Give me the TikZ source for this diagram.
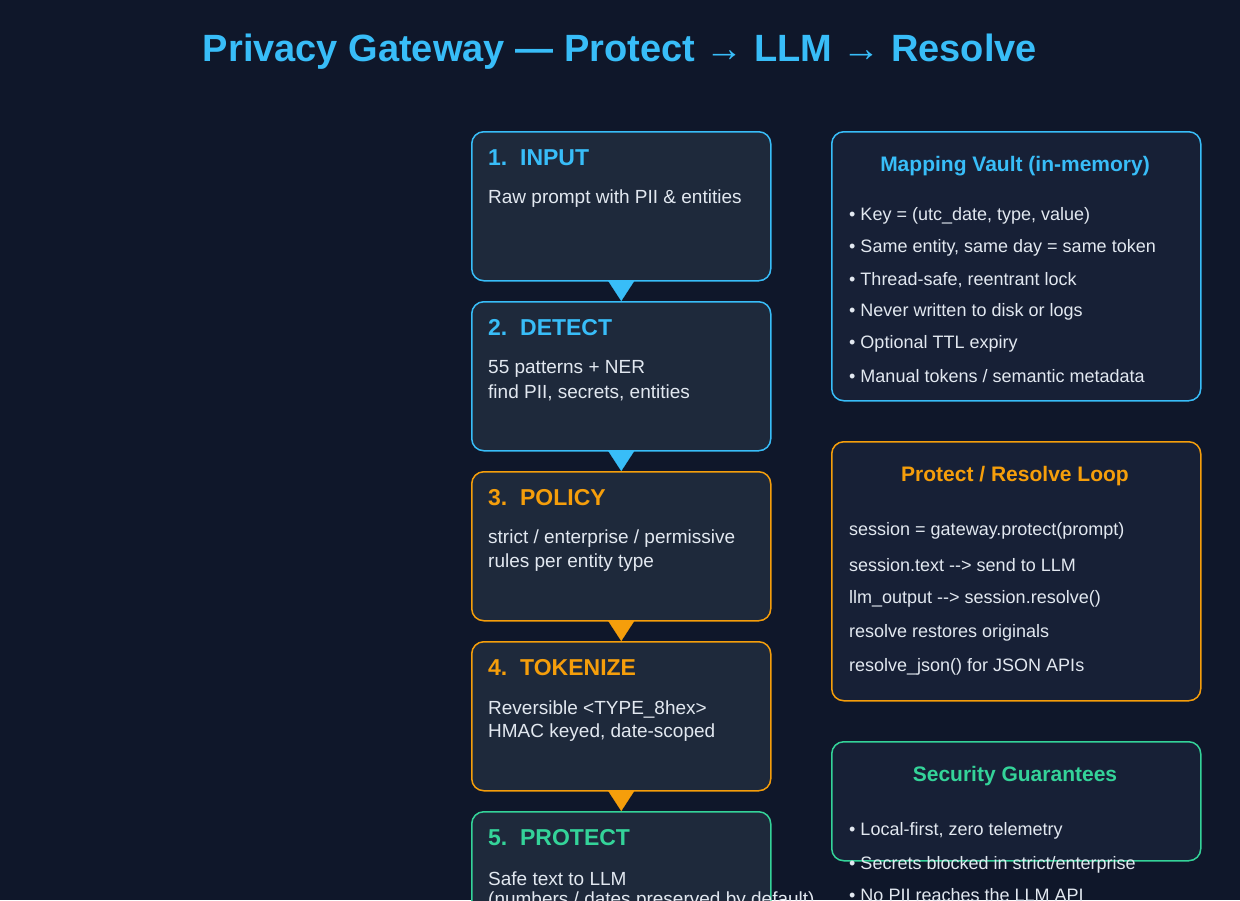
\documentclass[tikz,border=0pt]{standalone}
\usepackage{fontspec}
\setmainfont{Liberation Sans}
\usepackage{xcolor}
\usetikzlibrary{positioning,arrows.meta}
\definecolor{bgc}{HTML}{0F172A}
\definecolor{boxc}{HTML}{1E293B}
\definecolor{vaultc}{HTML}{172036}
\definecolor{bluec}{HTML}{38BDF8}
\definecolor{orangec}{HTML}{F59E0B}
\definecolor{greenc}{HTML}{34D399}
\definecolor{txtc}{HTML}{E2E8F0}
\begin{document}
\begin{tikzpicture}[%
    x=1pt,
    y=-1pt,
    stage/.style={%
      line width=1.5pt,
      rounded corners=12pt,
      fill=boxc,
      minimum width=299pt,
      minimum height=149pt,
      anchor=north west
    },
    panel/.style={%
      line width=1.5pt,
      rounded corners=12pt,
      fill=vaultc,
      minimum width=369pt,
      anchor=north west
    },
    head/.style={%
      anchor=west,
      inner sep=0pt,
      font=\fontsize{23}{27}\selectfont\bfseries
    },
    body/.style={%
      anchor=west,
      inner sep=0pt,
      text=txtc,
      font=\fontsize{19}{24}\selectfont
    },
    ptitle/.style={%
      font=\fontsize{21}{25}\selectfont\bfseries
    },
    pline/.style={%
      anchor=west,
      inner sep=0pt,
      text=txtc,
      font=\fontsize{18}{21}\selectfont
    },
    flow/.style={%
      -{Triangle[width=26pt,length=20pt]},
      line width=0.1pt
    }
  ]
    \fill[bgc] (0,0) rectangle (1240,900);
    \useasboundingbox (0,0) rectangle (1240,900);
    \clip (0,0) rectangle (1240,900);

    \node[text=bluec, font=\fontsize{38}{44}\selectfont\bfseries] (title) at (620,52)
      {Privacy Gateway — Protect → LLM → Resolve};

    % pipeline stages
    \node[stage, draw=bluec] (input) at (471,131) {};
    \node[stage, draw=bluec] (detect) at (471,301) {};
    \node[stage, draw=orangec] (policy) at (471,471) {};
    \node[stage, draw=orangec] (tokenize) at (471,641) {};
    \node[stage, draw=greenc] (protect) at (471,811) {};

    \node[head, text=bluec] at (488,158) {1.\ \ INPUT};
    \node[body] at (488,199) {Raw prompt with PII \& entities};
    \node[head, text=bluec] at (488,328) {2.\ \ DETECT};
    \node[body] at (488,369) {55 patterns + NER};
    \node[body] at (488,393) {find PII, secrets, entities};
    \node[head, text=orangec] at (488,498) {3.\ \ POLICY};
    \node[body] at (488,539) {strict / enterprise / permissive};
    \node[body] at (488,563) {rules per entity type};
    \node[head, text=orangec] at (488,668) {4.\ \ TOKENIZE};
    \node[body] at (488,709) {Reversible <TYPE\_8hex>};
    \node[body] at (488,733) {HMAC keyed, date-scoped};
    \node[head, text=greenc] at (488,838) {5.\ \ PROTECT};
    \node[body] at (488,879) {Safe text to LLM};
    \node[body] at (488,901) {(numbers / dates preserved by default)};

    \draw[flow, bluec, fill=bluec] (input.south) -- (detect.north);
    \draw[flow, bluec, fill=bluec] (detect.south) -- (policy.north);
    \draw[flow, orangec, fill=orangec] (policy.south) -- (tokenize.north);
    \draw[flow, orangec, fill=orangec] (tokenize.south) -- (protect.north);

    % side panels
    \node[panel, draw=bluec, minimum height=269pt] (vault) at (831,131) {};
    \node[ptitle, text=bluec] at (1015,166) {Mapping Vault (in-memory)};
    \node[pline] at (849,216) {• Key = (utc\_date, type, value)};
    \node[pline] at (849,248) {• Same entity, same day = same token};
    \node[pline] at (849,280) {• Thread-safe, reentrant lock};
    \node[pline] at (849,312) {• Never written to disk or logs};
    \node[pline] at (849,344) {• Optional TTL expiry};
    \node[pline] at (849,376) {• Manual tokens / semantic metadata};

    \node[panel, draw=orangec, minimum height=259pt] (loop) at (831,441) {};
    \node[ptitle, text=orangec] at (1015,476) {Protect / Resolve Loop};
    \node[pline] at (849,531) {session = gateway.protect(prompt)};
    \node[pline] at (849,565) {session.text -{}-> send to LLM};
    \node[pline] at (849,599) {llm\_output -{}-> session.resolve()};
    \node[pline] at (849,633) {resolve restores originals};
    \node[pline] at (849,667) {resolve\_json() for JSON APIs};

    \node[panel, draw=greenc, minimum height=119pt] (guard) at (831,741) {};
    \node[ptitle, text=greenc] at (1015,776) {Security Guarantees};
    \node[pline] at (849,831) {• Local-first, zero telemetry};
    \node[pline] at (849,865) {• Secrets blocked in strict/enterprise};
    \node[pline] at (849,895) {• No PII reaches the LLM API};
\end{tikzpicture}
\end{document}
